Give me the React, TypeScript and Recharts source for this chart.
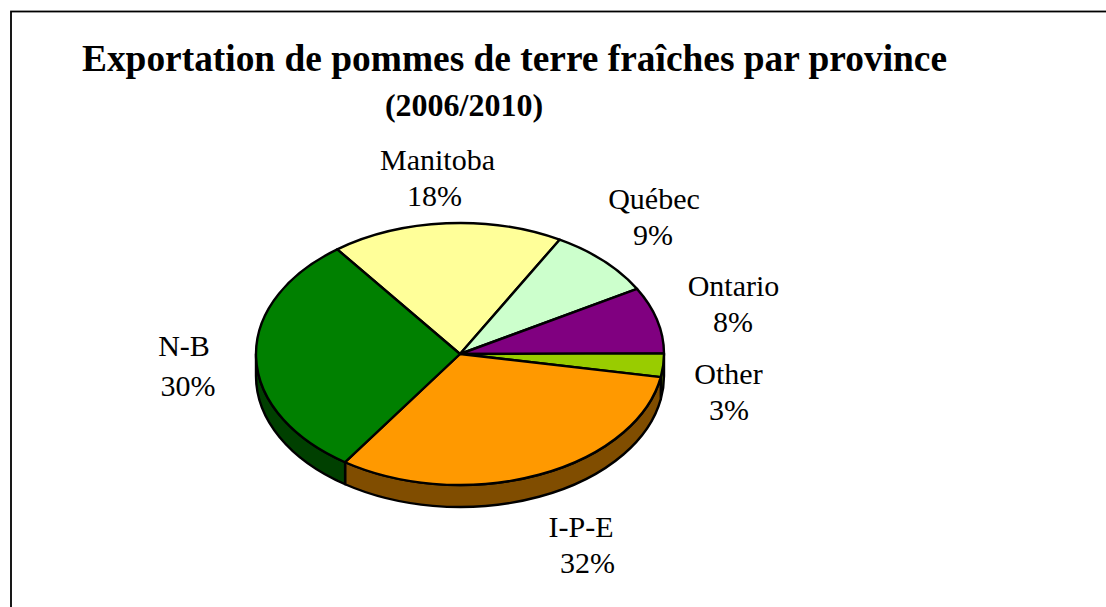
import React from "react";
import { PieChart, Pie, Cell } from "recharts";

const categories = ["Manitoba", "Québec", "Ontario", "Other", "I-P-E", "N-B"];
const shares = [18.4, 8.6, 8.2, 2.9, 31.7, 30.2];
const topColors = ["#FFFF99", "#CCFFCC", "#800080", "#99CC00", "#FF9900", "#008000"];
const sideColors = ["#808050", "#668066", "#400040", "#4D6600", "#804D00", "#004000"];
const titleLine1 = "Exportation de pommes de terre fraîches par province";
const titleLine2 = "(2006/2010)";

const W = 1106, H = 607, CX = 460, CY = 354, RX = 204, RY = 131, DEPTH = 22;
// [name x, name baseline, percent x, percent baseline]
const labelAnchors: Record<string, [number, number, number, number]> = {
  Manitoba: [437.5, 170, 434.5, 206],
  "Québec": [654, 209, 653, 245],
  Ontario: [733.5, 296, 733, 332],
  Other: [728.5, 384, 729, 420],
  "I-P-E": [581, 537, 587.5, 573],
  "N-B": [184, 356, 188, 396],
};

const rows = categories.map((name, i) => ({ name, value: shares[i] }));
const px = (deg: number) => CX + RX * Math.cos((deg * Math.PI) / 180);
const py = (deg: number) => CY - RY * Math.sin((deg * Math.PI) / 180);

function SliceShape(props: any) {
  const { startAngle, endAngle, index } = props;
  const a0 = Math.max(startAngle, endAngle), a1 = Math.min(startAngle, endAngle);
  const large = a0 - a1 > 180 ? 1 : 0;
  const top = `M${CX},${CY} L${px(a0)},${py(a0)} A${RX},${RY} 0 ${large} 1 ${px(a1)},${py(a1)} Z`;
  // visible wall: the part of the arc in the lower half of the ellipse
  const walls: string[] = [];
  for (const [lo, hi] of [[-180, 0], [-540, -360]]) {
    const s = Math.min(a0, hi), e = Math.max(a1, lo);
    if (s > e) {
      walls.push(
        `M${px(s)},${py(s)} A${RX},${RY} 0 0 1 ${px(e)},${py(e)} L${px(e)},${py(e) + DEPTH} A${RX},${RY} 0 0 0 ${px(s)},${py(s) + DEPTH} Z`
      );
    }
  }
  return (
    <g>
      {walls.map((d, k) => (
        <path key={k} d={d} fill={sideColors[index]} stroke="#000" strokeWidth={2.4} strokeLinejoin="round" />
      ))}
      <path d={top} fill={topColors[index]} stroke="#000" strokeWidth={2.4} strokeLinejoin="round" />
    </g>
  );
}

function SliceLabel(props: any) {
  const { index } = props;
  const name = categories[index];
  const [x, y, x2, y2] = labelAnchors[name];
  return (
    <text fontFamily="Liberation Serif" fontSize={30} fill="#000" textAnchor="middle">
      <tspan x={x} y={y}>{name}</tspan>
      <tspan x={x2} y={y2}>{Math.round(shares[index])}%</tspan>
    </text>
  );
}

export default function App() {
  return (
    <div style={{ position: "absolute", left: 0, top: 0, width: W, height: H, background: "#fff", overflow: "hidden" }}>
      <PieChart width={W} height={H} margin={{ top: 0, right: 0, bottom: 0, left: 0 }}>
        <rect x={11} y={11.5} width={1200} height={800} fill="#fff" stroke="#000" strokeWidth={1.8} />
        <text x={514.5} y={71} textAnchor="middle" fontFamily="Liberation Serif" fontWeight="bold" fontSize={37.4} fill="#000">{titleLine1}</text>
        <text x={464} y={116} textAnchor="middle" fontFamily="Liberation Serif" fontWeight="bold" fontSize={32} fill="#000">{titleLine2}</text>
        <Pie
          data={rows}
          dataKey="value"
          nameKey="name"
          cx={CX}
          cy={CY}
          outerRadius={RY}
          startAngle={127}
          endAngle={-233}
          paddingAngle={0}
          isAnimationActive={false}
          shape={SliceShape}
          label={SliceLabel}
          labelLine={false}
        >
          {rows.map((r, i) => <Cell key={r.name} fill={topColors[i]} />)}
        </Pie>
      </PieChart>
    </div>
  );
}
